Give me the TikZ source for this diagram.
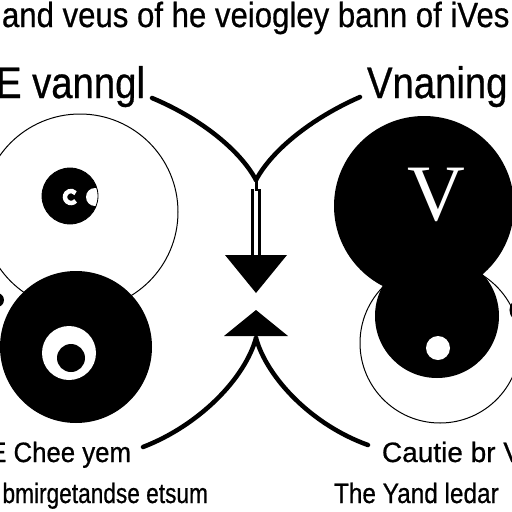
\documentclass[tikz,border=0pt]{standalone}
\usepackage{graphicx}
\usepackage{fontspec}
\setmainfont{Liberation Sans}[BoldFont={Liberation Sans},BoldFeatures={FakeBold=0.7}]
\newfontfamily\seriffont{Liberation Serif}
\begin{document}
\begin{tikzpicture}[x=1pt,y=-1pt,
  curve/.style={line width=4.5pt, line cap=round},
  thinring/.style={line width=1pt},
  lbl/.style={inner sep=0pt, outer sep=0pt, font=\bfseries}]
\useasboundingbox (0,0) rectangle (512,512);
\fill[white] (0,0) rectangle (512,512);
\clip (0,0) rectangle (512,512);

% left side
\draw[thinring] (80,212) circle[radius=98];
\fill (70,196) circle[radius=28];
\begin{scope}
  \clip (70,196) circle[radius=28];
  \fill[white] (95,197) circle[radius=9];
\end{scope}
\draw[line width=0.8pt] (70,196) circle[radius=28];
\draw[white, line width=4.5pt] (71,197) ++(40:6) arc[start angle=40, end angle=320, radius=6];
\fill (76,347) circle[radius=76];
\fill[white] (69,353) circle[radius=27];
\fill (71,358) circle[radius=14];
\fill (-3,300) circle[radius=7];

% right side
\draw[thinring] (440,343) circle[radius=80];
\fill (424,206) circle[radius=90];
\fill (437,316) circle[radius=62];
\fill[white] (438,348) circle[radius=12];
\draw[line width=3pt] (522,310) circle[radius=11];
\node[inner sep=0pt, anchor=base, text=white] (v) at (436,220) {\seriffont\fontsize{80}{80}\selectfont V};

% centre connectors
\coordinate (tl) at (152,98);
\coordinate (tr) at (360,97);
\coordinate (j1) at (256,180);
\coordinate (bl) at (143,447);
\coordinate (br) at (368,445);
\coordinate (j2) at (256,338);
\draw[curve] (tl) .. controls (200,118) and (240,150) .. (j1);
\draw[curve] (tr) .. controls (312,118) and (272,150) .. (j1);
\draw[line width=3pt] (j1) -- (256,191);
\draw[line width=3pt] (252.5,189) -- (252.5,256);
\draw[line width=3pt] (259.5,189) -- (259.5,256);
\fill (225,255) -- (287,255) -- (256,293) -- cycle;
\fill (256,310) -- (288,336) -- (224,336) -- cycle;
\draw[curve] (bl) .. controls (200,425) and (245,378) .. (j2);
\draw[curve] (br) .. controls (312,425) and (267,378) .. (j2);

% texts
\node[lbl, anchor=base west] (title) at (2,27) {\scalebox{0.89}[1]{\fontsize{35}{35}\selectfont and veus of he veiogley bann of iVes}};
\node[lbl, anchor=base east] (lt) at (145,98) {\scalebox{0.87}[1]{\fontsize{44}{44}\selectfont E vanngl}};
\node[lbl, anchor=base west] (rt) at (367,98) {\scalebox{0.87}[1]{\fontsize{44}{44}\selectfont Vnaning}};
\node[lbl, anchor=base east] (lb1) at (131,462) {\scalebox{0.92}[1]{\fontsize{28}{28}\selectfont E Chee yem}};
\node[lbl, anchor=base east] (lb2) at (208,503) {\scalebox{0.81}[1]{\fontsize{28}{28}\selectfont bmirgetandse etsum}};
\node[lbl, anchor=base west] (rb1) at (382,462) {\fontsize{28}{28}\selectfont Cautie br V};
\node[lbl, anchor=base west] (rb2) at (334,503) {\scalebox{0.87}[1]{\fontsize{28}{28}\selectfont The Yand ledar}};
\end{tikzpicture}
\end{document}
